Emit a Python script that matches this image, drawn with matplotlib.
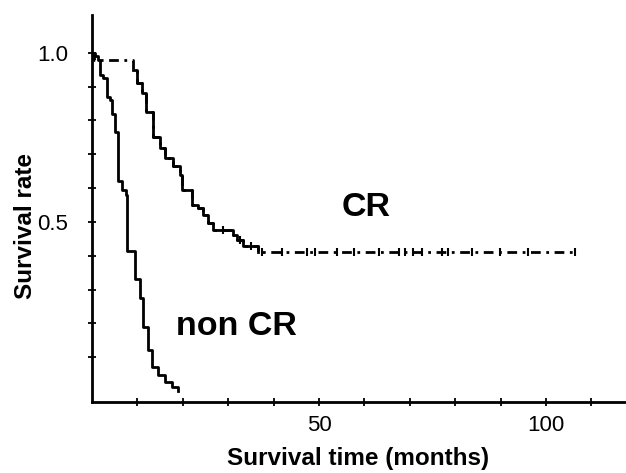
import matplotlib
matplotlib.use("Agg")
import matplotlib.pyplot as plt

plt.rcParams['font.family'] = ['Liberation Sans', 'DejaVu Sans']

# Kaplan-Meier steps (time in months, survival after the step)
noncr_time = [0, 0.7, 1.3, 1.8, 2.4, 3.3, 4.0, 4.4, 5.1, 5.8, 6.6, 7.5, 7.8,
              9.5, 10.6, 11.3, 12.3, 13.2, 14.5, 16.1, 17.6, 19.0]
noncr_surv = [1.0, 0.99, 0.98, 0.935, 0.925, 0.87, 0.86, 0.82, 0.765, 0.62, 0.595, 0.58, 0.415,
              0.33, 0.275, 0.19, 0.12, 0.07, 0.047, 0.027, 0.012, 0.0]

cr_time = [0, 0.5, 9.0, 9.9, 11.0, 12.0, 13.5, 15.0, 16.1, 17.9, 19.4, 19.8, 22.0,
           23.3, 24.4, 25.6, 26.7, 31.0, 32.0, 33.3, 36.6, 106.8]
cr_surv = [1.0, 0.979, 0.95, 0.91, 0.88, 0.825, 0.75, 0.72, 0.69, 0.665, 0.64, 0.595, 0.55,
           0.54, 0.52, 0.497, 0.476, 0.46, 0.447, 0.43, 0.41, 0.41]

# censored patients in CR group
cr_cens_time = [28.9, 32.5, 35.0, 37.4, 41.8, 47.3, 49.1, 53.9, 57.6, 63.1, 67.5, 68.9,
                70.8, 72.6, 77.0, 78.5, 83.6, 89.9, 96.1, 106.4]
cr_cens_surv = [0.476, 0.447, 0.43] + [0.41] * 17

fig = plt.figure(figsize=(6.26, 4.73), dpi=100)
ax = fig.add_axes([92 / 626, 71 / 473, 534 / 626, 387 / 473])

# non CR curve
ax.step(noncr_time, noncr_surv, where='post', color='black', lw=2.0)

# CR curve: flat parts look dash-dotted, the falling part is solid
ax.step(cr_time, cr_surv, where='post', color='black', lw=2.0,
        linestyle=(0, (3.5, 2, 1, 2)))
ax.step(cr_time[2:-1], cr_surv[2:-1], where='post', color='black', lw=2.0)
ax.plot(cr_cens_time, cr_cens_surv, ls='none', marker='|', ms=6, mew=1.5, color='black')

ax.text(60.4, 0.544, 'CR', fontsize=24.5, fontweight='bold', ha='center', va='center')
ax.text(31.9, 0.19, 'non CR', fontsize=24.5, fontweight='bold', ha='center', va='center')

ax.set_xlim(0, 117.6)
ax.set_ylim(-0.0325, 1.112)

ax.spines['top'].set_visible(False)
ax.spines['right'].set_visible(False)
ax.spines['left'].set_linewidth(2.0)
ax.spines['bottom'].set_linewidth(2.0)

ax.set_xticks(range(10, 120, 10))
ax.set_xticklabels(['' if t % 50 else str(t) for t in range(10, 120, 10)])
ax.set_yticks([i / 10 for i in range(1, 11)])
ax.set_yticklabels(['0.5' if i == 5 else ('1.0' if i == 10 else '') for i in range(1, 11)])
ax.tick_params(direction='inout', length=6, width=1.3, labelsize=16)
ax.tick_params(axis='x', pad=6)
ax.tick_params(axis='y', pad=14)

ax.set_xlabel('Survival time (months)', fontsize=17.5, fontweight='bold')
ax.set_ylabel('Survival rate', fontsize=17.5, fontweight='bold')
ax.xaxis.set_label_coords(0.499, -0.115)
ax.yaxis.set_label_coords(-0.103, 0.455)

plt.savefig('out.png', dpi=100, facecolor='white')
